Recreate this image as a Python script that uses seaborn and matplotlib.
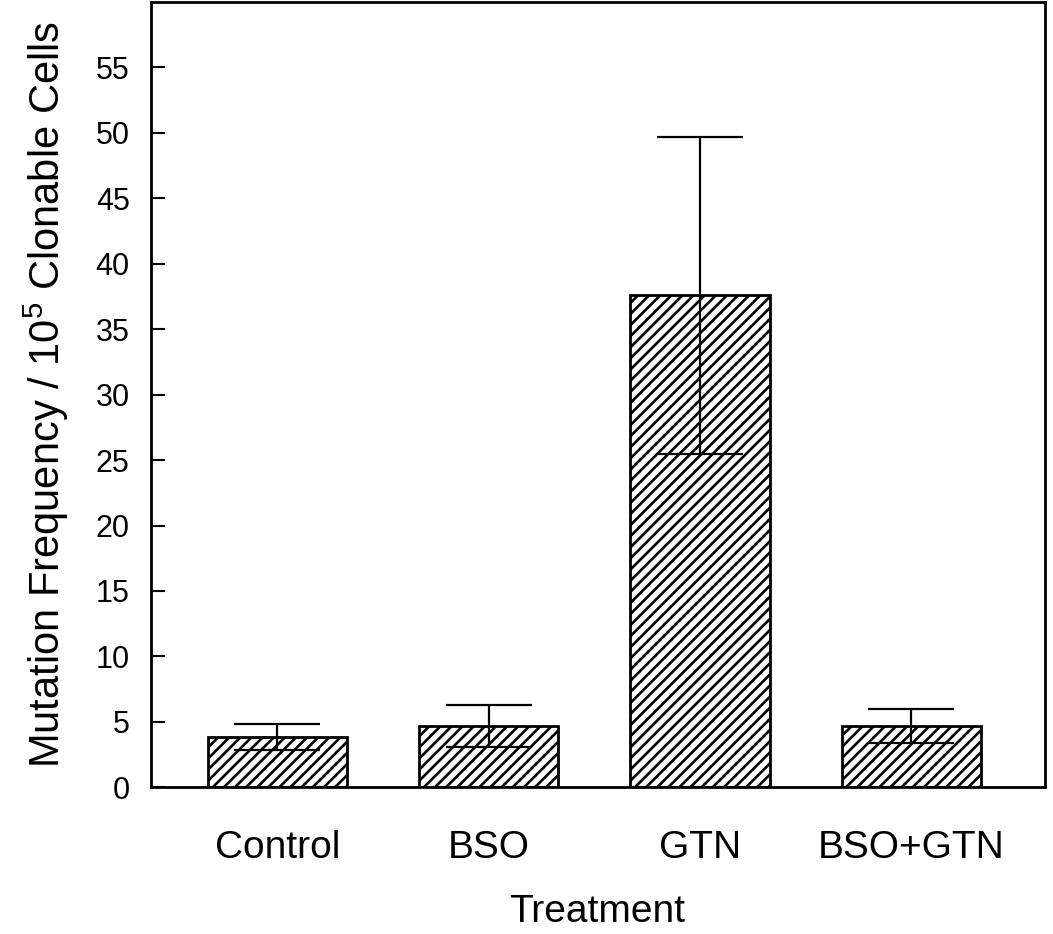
import numpy as np
import pandas as pd
import matplotlib
matplotlib.use("Agg")
import matplotlib.pyplot as plt
import seaborn as sns

# Data (mean and SD)
treatments = ["Control", "BSO", "GTN", "BSO+GTN"]
mean_freq = [3.85, 4.7, 37.6, 4.7]
sd_freq = [1.0, 1.6, 12.1, 1.3]

df = pd.DataFrame({"Treatment": treatments, "Frequency": mean_freq})

sns.set_theme(style="white")
plt.rcParams["font.family"] = ["Liberation Sans", "DejaVu Sans"]
plt.rcParams["mathtext.fontset"] = "custom"
plt.rcParams["mathtext.rm"] = "Liberation Sans"
plt.rcParams["hatch.linewidth"] = 1.9
plt.rcParams["text.color"] = "black"
plt.rcParams["axes.labelcolor"] = "black"
plt.rcParams["xtick.color"] = "black"
plt.rcParams["ytick.color"] = "black"

fig = plt.figure(figsize=(10.53, 9.34), dpi=100)
ax = fig.add_axes([0.143, 0.157, 0.849, 0.841])

sns.barplot(data=df, x="Treatment", y="Frequency", color="white",
            edgecolor="black", linewidth=2, width=0.66, errorbar=None, ax=ax)
for p in ax.patches:
    p.set_hatch("///")

ax.errorbar(np.arange(len(treatments)), mean_freq, yerr=sd_freq, fmt="none",
            ecolor="black", elinewidth=1.6, capsize=31, capthick=1.6, zorder=5)

ax.set_xlim(-0.6, 3.63)
ax.set_ylim(0, 60)
ax.set_yticks(range(0, 60, 5))

for s in ax.spines.values():
    s.set_color("black")
    s.set_linewidth(2)

ax.tick_params(axis="y", direction="in", length=10, width=1.5,
               labelsize=22, pad=15, left=True)
ax.tick_params(axis="x", length=0, labelsize=28, pad=31)

ax.set_xlabel("Treatment", fontsize=28, labelpad=20)
ax.set_ylabel(r"Mutation Frequency / $\mathregular{10^5}$ Clonable Cells", fontsize=30, labelpad=18)

fig.savefig("out.png", dpi=100)
